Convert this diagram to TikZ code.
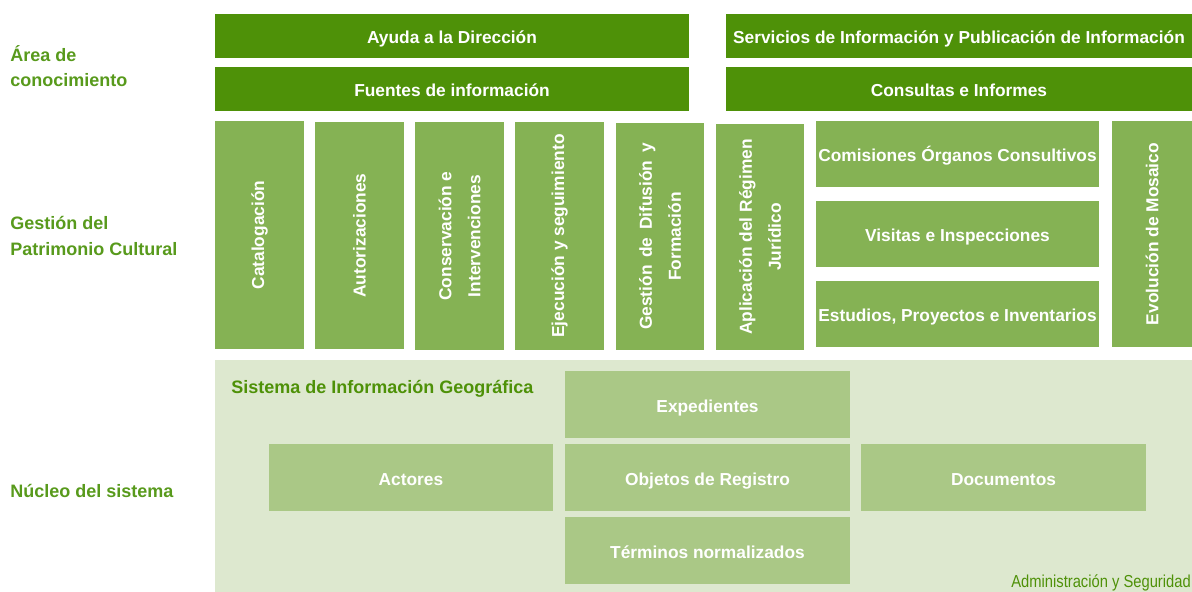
\documentclass[tikz,border=0pt]{standalone}
\usepackage{fontspec}
\setmainfont{Liberation Sans}
\newfontfamily\narrowfont{Liberation Sans}[FakeStretch=0.85]
\usetikzlibrary{fit}
\definecolor{dk}{RGB}{78,145,8}
\definecolor{md}{RGB}{133,178,84}
\definecolor{lt}{RGB}{170,200,134}
\definecolor{bgc}{RGB}{221,232,207}
\definecolor{lblc}{RGB}{88,154,28}
\begin{document}
\begin{tikzpicture}[x=0.75pt,y=-0.75pt,
  box/.style={inner sep=0pt, outer sep=0pt, draw=none},
  wtxt/.style={text=white, font=\fontsize{13}{21.75}\selectfont\bfseries, align=center, inner sep=0pt},
  htxt/.style={wtxt, text height=9.4pt, text depth=0pt, yshift=-1pt},
  dkbox/.style={box, fill=dk},
  mdbox/.style={box, fill=md},
  ltbox/.style={box, fill=lt},
  vtxt/.style={wtxt, rotate=90},
  lbl/.style={text=lblc, font=\fontsize{13.5}{18.75}\selectfont\bfseries, anchor=base west, inner sep=0pt}]
\useasboundingbox (0,0) rectangle (1192,592);

% left labels
\node[lbl] (l1a) at (10,62) {Área de};
\node[lbl] (l1b) at (10,87) {conocimiento};
\node[lbl] (l2a) at (10,229) {Gestión del};
\node[lbl] (l2b) at (10,255) {Patrimonio Cultural};
\node[lbl] (l3) at (10,497) {Núcleo del sistema};

% knowledge area
\node[dkbox, fit={(215,14) (689,58)}] (ayuda) {};
\node[htxt] (ayudat) at (ayuda.center) {Ayuda a la Dirección};
\node[dkbox, fit={(215,67) (689,111)}] (fuentes) {};
\node[htxt] (fuentest) at (fuentes.center) {Fuentes de información};
\node[dkbox, fit={(726,14) (1192,58)}] (servicios) {};
\node[htxt] (serviciost) at (servicios.center) {Servicios de Información y Publicación de Información};
\node[dkbox, fit={(726,67) (1192,111)}] (consultas) {};
\node[htxt] (consultast) at (consultas.center) {Consultas e Informes};

% management columns
\node[mdbox, fit={(215,121) (304,349)}] (cat) {};
\node[vtxt] (catt) at (cat.center) {Catalogación};
\node[mdbox, fit={(315,122) (404,349)}] (aut) {};
\node[vtxt] (autt) at (aut.center) {Autorizaciones};
\node[mdbox, fit={(415,122) (504,350)}] (con) {};
\node[vtxt] (cont) at (con.center) {Conservación e\\Intervenciones};
\node[mdbox, fit={(515,122) (604,350)}] (eje) {};
\node[vtxt] (ejet) at (eje.center) {Ejecución y seguimiento};
\node[mdbox, fit={(616,123) (704,350)}] (dif) {};
\node[vtxt] (dift) at (dif.center) {\makebox[140pt][s]{Gestión de Difusión y}\\Formación};
\node[mdbox, fit={(716,124) (804,350)}] (apl) {};
\node[vtxt] (aplt) at (apl.center) {Aplicación del Régimen\\Jurídico};
\node[mdbox, fit={(816,121) (1099,187)}] (com) {};
\node[htxt] (comt) at (com.center) {Comisiones Órganos Consultivos};
\node[mdbox, fit={(816,201) (1099,267)}] (vis) {};
\node[htxt] (vist) at (vis.center) {Visitas e Inspecciones};
\node[mdbox, fit={(816,281) (1099,347)}] (est) {};
\node[htxt] (estt) at (est.center) {Estudios, Proyectos e Inventarios};
\node[mdbox, fit={(1112,121) (1192,347)}] (evo) {};
\node[vtxt] (evot) at (evo.center) {Evolución de Mosaico};

% core
\node[box, fill=bgc, fit={(215,360) (1192,592)}] (core) {};
\node[anchor=base west, inner sep=0pt, text=dk, font=\fontsize{13.5}{16}\selectfont\bfseries] (sig) at (231,393) {Sistema de Información Geográfica};
\node[anchor=base east, inner sep=0pt, text=dk, font=\narrowfont\fontsize{13}{16}\selectfont] (adm) at (1191,587) {Administración y Seguridad};
\node[ltbox, fit={(565,371) (850,438)}] (exp) {};
\node[htxt] (expt) at (exp.center) {Expedientes};
\node[ltbox, fit={(269,444) (553,511)}] (act) {};
\node[htxt] (actt) at (act.center) {Actores};
\node[ltbox, fit={(565,444) (850,511)}] (obj) {};
\node[htxt] (objt) at (obj.center) {Objetos de Registro};
\node[ltbox, fit={(861,444) (1146,511)}] (doc) {};
\node[htxt] (doct) at (doc.center) {Documentos};
\node[ltbox, fit={(565,517) (850,584)}] (ter) {};
\node[htxt] (tert) at (ter.center) {Términos normalizados};
\end{tikzpicture}
\end{document}
